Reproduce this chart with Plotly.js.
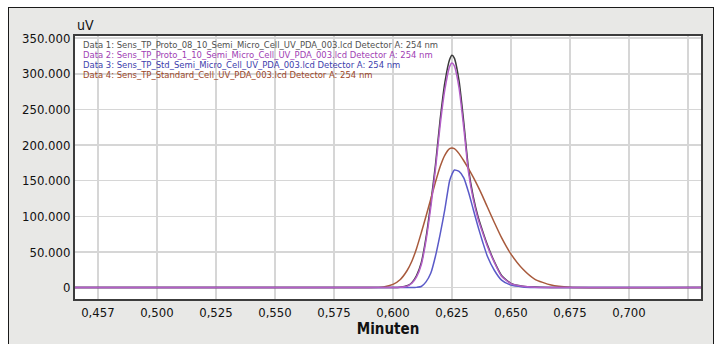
<!DOCTYPE html>
<html>
<head>
<meta charset="utf-8">
<script src="https://cdn.plot.ly/plotly-3.0.1.min.js"></script>
<style>
  html, body { margin:0; padding:0; background:#ffffff; overflow:hidden; width:714px; height:344px; }
  #frame { position:absolute; left:8px; top:7px; width:704px; height:400px; border:1px solid #1a1a1a; background:#e8e8e6; }
  #chart { position:absolute; left:0; top:0; width:714px; height:344px; }
</style>
</head>
<body>
<div id="frame"></div>
<div id="chart"></div>
<script>
// time axis (minutes)
var timeMin = [0.465, 0.590, 0.596, 0.600, 0.603, 0.606, 0.608, 0.610, 0.612, 0.614, 0.616, 0.618, 0.620, 0.622, 0.624, 0.625, 0.626, 0.628, 0.630, 0.632, 0.634, 0.636, 0.638, 0.640, 0.643, 0.646, 0.650, 0.655, 0.660, 0.667, 0.675, 0.731];

// signal values (uV)
var data1 = [0, 0, 0, 0, 500, 2500, 6900, 17000, 35000, 70000, 118000, 172000, 236000, 288000, 320000, 326000, 322000, 290000, 232000, 167000, 128000, 100000, 79000, 60000, 36000, 17000, 6000, 2000, 700, 200, 0, 0];
var data2 = [0, 0, 0, 0, 400, 2000, 6000, 15000, 32000, 66000, 112000, 166000, 228000, 278000, 310000, 315000, 311000, 280000, 224000, 162000, 124000, 97000, 77000, 58000, 35000, 16000, 5500, 1800, 600, 200, 0, 0];
var data3 = [0, 0, 0, 0, 0, 0, 0, 300, 1500, 8000, 20000, 44000, 75000, 110000, 150000, 159000, 165000, 163000, 154000, 134000, 110000, 86000, 64000, 44000, 24000, 10500, 3500, 1000, 300, 0, 0, 0];
var data4 = [0, 0, 1000, 4500, 11000, 24000, 37000, 55000, 77000, 100000, 124000, 148000, 170000, 186000, 195000, 196000, 195000, 188000, 178000, 167000, 155000, 142000, 128000, 113000, 91000, 70000, 47000, 26000, 12000, 3500, 500, 0];

var seriesNames = [
  "Data 1: Sens_TP_Proto_08_10_Semi_Micro_Cell_UV_PDA_003.lcd Detector A: 254 nm",
  "Data 2: Sens_TP_Proto_1_10_Semi_Micro_Cell_UV_PDA_003.lcd Detector A: 254 nm",
  "Data 3: Sens_TP_Std_Semi_Micro_Cell_UV_PDA_003.lcd Detector A: 254 nm",
  "Data 4: Sens_TP_Standard_Cell_UV_PDA_003.lcd Detector A: 254 nm"
];
var lineColors = ["#3a3a3a", "#b45ec8", "#5a5ac8", "#a85a3c"];
var textColors = ["#505050", "#a040b4", "#4040ac", "#9c4628"];

var xTickVals = [0.475, 0.500, 0.525, 0.550, 0.575, 0.600, 0.625, 0.650, 0.675, 0.700, 0.725];
var xTickText = ["0,457", "0,500", "0,525", "0,550", "0,575", "0,600", "0,625", "0,650", "0,675", "0,700", ""];
var yTickVals = [0, 50000, 100000, 150000, 200000, 250000, 300000, 350000];
var yTickText = ["0", "50.000", "100.000", "150.000", "200.000", "250.000", "300.000", "350.000"];

var series = [data1, data4, data3, data2];
var order = [0, 3, 2, 1];
var traces = order.map(function (k, i) {
  return {
    x: timeMin, y: series[i], type: "scatter", mode: "lines",
    name: seriesNames[k],
    line: { color: lineColors[k], width: 1.5, shape: "spline", smoothing: 0.6 },
    hoverinfo: "skip"
  };
});

var narrow = "'Liberation Sans Narrow', 'DejaVu Sans Condensed', 'Liberation Sans', sans-serif";
var legendY = [0.966, 0.928, 0.890, 0.852];
var annotations = seriesNames.map(function (t, k) {
  return {
    text: t, xref: "paper", yref: "paper", x: 0.009, y: legendY[k],
    xanchor: "left", yanchor: "middle", showarrow: false,
    font: { family: narrow, size: 9.4, color: textColors[k] }
  };
});
annotations.push({
  text: "uV", xref: "paper", yref: "paper", x: 0.0, y: 1.04,
  xanchor: "left", yanchor: "middle", showarrow: false,
  font: { family: narrow, size: 14, color: "#111" }
});

var layout = {
  width: 714, height: 344,
  margin: { l: 75, r: 13, t: 36, b: 45, pad: 0 },
  paper_bgcolor: "rgba(0,0,0,0)",
  plot_bgcolor: "#ffffff",
  showlegend: false,
  font: { family: narrow, size: 13, color: "#111" },
  xaxis: {
    range: [0.4653, 0.7305],
    tickvals: xTickVals, ticktext: xTickText,
    showgrid: true, gridcolor: "#d6d6d6", gridwidth: 1.5,
    zeroline: false, showline: true, mirror: true, linecolor: "#3c3c3c", linewidth: 2,
    ticks: "", tickfont: { family: narrow, size: 13, color: "#111" },
    title: { text: "<b>Minuten</b>", font: { family: narrow, size: 15, color: "#111" }, standoff: 2 }
  },
  yaxis: {
    range: [-16000, 353000],
    tickvals: yTickVals, ticktext: yTickText,
    showgrid: true, gridcolor: "#d6d6d6", gridwidth: 1.5,
    zeroline: false, showline: true, mirror: true, linecolor: "#3c3c3c", linewidth: 2,
    ticks: "", tickfont: { family: narrow, size: 13, color: "#111" }
  },
  annotations: annotations
};

Plotly.newPlot("chart", traces, layout, { displayModeBar: false, staticPlot: true });
</script>
</body>
</html>
